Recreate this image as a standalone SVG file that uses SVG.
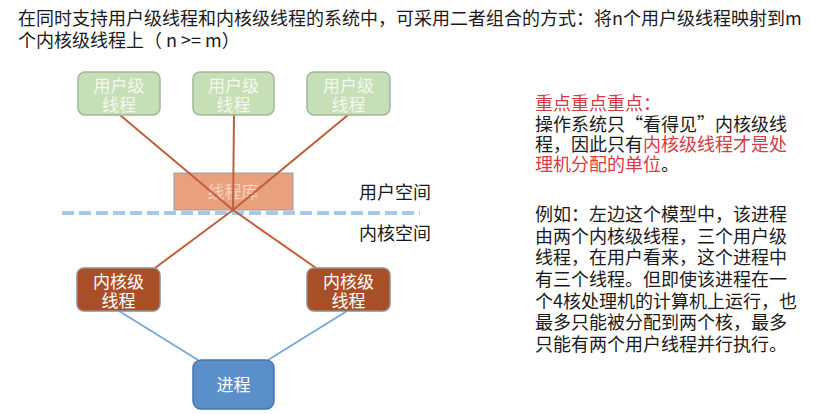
<svg xmlns="http://www.w3.org/2000/svg" width="813" height="414" viewBox="0 0 813 414">
<style>
text{font-family:"Noto Sans CJK SC","Noto Sans",sans-serif;}
.t{font-size:18px;fill:#1a1a1a;}
.r{fill:#d63a44;}
.n{font-size:17px;text-anchor:middle;}
.user rect{fill:#c7dfb6;stroke:#9fb89a;stroke-width:1.5;}
.user text{fill:#f3f8ee;}
.kern rect{fill:#a94f27;stroke:#8e8e8e;stroke-width:1.5;}
.kern text{fill:#ffffff;}
.ol{stroke:#c0603a;stroke-width:2;fill:none;}
.bl{stroke:#7aa9d9;stroke-width:2;fill:none;}
</style>
<rect width="813" height="414" fill="#ffffff"/>
<g id="title">
<text class="t" x="18" y="25">在同时支持用户级线程和内核级线程的系统中，可采用二者组合的方式：将n个用户级线程映射到m</text>
<text class="t" x="18" y="47">个内核级线程上（ n &gt;= m）</text>
</g>
<g id="threadlib">
<rect x="174" y="173" width="119" height="37" fill="#e9a07c" stroke="#8fa0b0" stroke-width="1"/>
<text class="n" x="233" y="198" fill="#f7d3bf">线程库</text>
</g>
<line id="divider" x1="62" y1="213" x2="420" y2="213" stroke="#a9c8e6" stroke-width="4" stroke-dasharray="12,5"/>
<g id="labels">
<text class="t" x="359" y="199">用户空间</text>
<text class="t" x="359" y="240">内核空间</text>
</g>
<g id="connectors">
<line class="ol" x1="120" y1="115" x2="233" y2="210"/>
<line class="ol" x1="234" y1="115" x2="233" y2="210"/>
<line class="ol" x1="348" y1="115" x2="233" y2="210"/>
<line class="ol" x1="233" y1="210" x2="155" y2="268"/>
<line class="ol" x1="233" y1="210" x2="316" y2="268"/>
<line class="bl" x1="119" y1="311" x2="198" y2="360"/>
<line class="bl" x1="347" y1="311" x2="268" y2="360"/>
</g>
<g id="user1" class="user">
<rect x="78" y="72" width="82" height="43" rx="7"/>
<text class="n" x="119" y="92">用户级</text>
<text class="n" x="119" y="111">线程</text>
</g>
<g id="user2" class="user">
<rect x="193" y="72" width="81" height="43" rx="7"/>
<text class="n" x="233.5" y="92">用户级</text>
<text class="n" x="233.5" y="111">线程</text>
</g>
<g id="user3" class="user">
<rect x="307" y="72" width="83" height="43" rx="7"/>
<text class="n" x="348.5" y="92">用户级</text>
<text class="n" x="348.5" y="111">线程</text>
</g>
<g id="kernel1" class="kern">
<rect x="77" y="268" width="83" height="43" rx="7"/>
<text class="n" x="118.5" y="288">内核级</text>
<text class="n" x="118.5" y="307">线程</text>
</g>
<g id="kernel2" class="kern">
<rect x="307" y="268" width="83" height="43" rx="7"/>
<text class="n" x="348.5" y="288">内核级</text>
<text class="n" x="348.5" y="307">线程</text>
</g>
<g id="process">
<rect x="193" y="360" width="81" height="49" rx="8" fill="#5b8fca" stroke="#4676ad" stroke-width="1.5"/>
<text class="n" x="233.5" y="391" fill="#ffffff">进程</text>
</g>
<g id="note1">
<text class="t r" x="535" y="110">重点重点重点：</text>
<text class="t" x="535" y="131">操作系统只“看得见”内核级线</text>
<text class="t" x="535" y="151">程，因此只有<tspan class="r">内核级线程才是处</tspan></text>
<text class="t" x="535" y="171"><tspan class="r">理机分配的单位</tspan>。</text>
</g>
<g id="note2">
<text class="t" x="535" y="221">例如：左边这个模型中，该进程</text>
<text class="t" x="535" y="243">由两个内核级线程，三个用户级</text>
<text class="t" x="535" y="264">线程，在用户看来，这个进程中</text>
<text class="t" x="535" y="286">有三个线程。但即使该进程在一</text>
<text class="t" x="535" y="308">个4核处理机的计算机上运行，也</text>
<text class="t" x="535" y="329">最多只能被分配到两个核，最多</text>
<text class="t" x="535" y="351">只能有两个用户线程并行执行。</text>
</g>
</svg>
